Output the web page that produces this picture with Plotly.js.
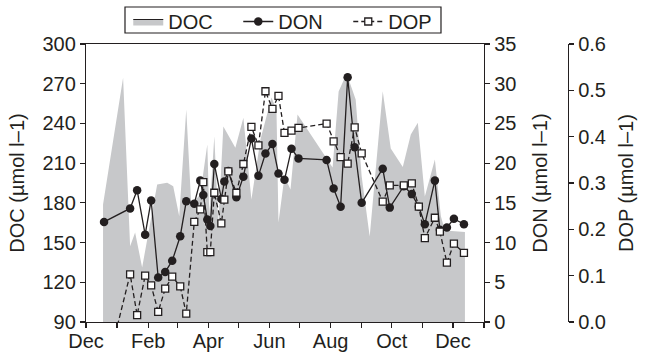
<!DOCTYPE html>
<html>
<head>
<meta charset="utf-8">
<script src="https://cdn.plot.ly/plotly-3.0.1.min.js"></script>
<style>html,body{margin:0;padding:0;background:#fff}#chart{width:645px;height:353px}</style>
</head>
<body>
<div id="chart"></div>
<script>
// DOC (gray area, left axis)
const docDates = ['2007-12-18','2008-01-07','2008-01-14','2008-01-19','2008-01-26','2008-02-10','2008-02-20','2008-02-26','2008-03-03','2008-03-10','2008-03-15','2008-03-24','2008-03-31','2008-04-02','2008-04-07','2008-04-11','2008-04-16','2008-04-28','2008-05-06','2008-05-14','2008-05-23','2008-06-03','2008-06-08','2008-06-10','2008-06-16','2008-06-22','2008-06-29','2008-07-29','2008-08-03','2008-08-09','2008-08-17','2008-08-26','2008-09-01','2008-09-09','2008-09-22','2008-09-30','2008-10-12','2008-10-20','2008-10-27','2008-11-03','2008-11-13','2008-11-19','2008-11-23','2008-12-13'];
const docValues = [178.8,274.5,147.3,157.6,131.2,193.9,195.2,192.6,169.9,250.5,178.8,186.3,224.1,171.2,230.4,163.7,237.7,221.6,244.3,182.5,227.9,259.6,250.5,165.2,199.9,190.1,246.7,212.8,206.7,264.1,277.7,258.1,199.9,154.6,264.3,221.1,207.1,231.6,240.5,184.8,212.8,169.9,159.1,158.0];

// DON and DOP sampling dates (shared)
const sampleDates = ['2007-12-19','2008-01-14','2008-01-21','2008-01-29','2008-02-04','2008-02-11','2008-02-18','2008-02-25','2008-03-04','2008-03-10','2008-03-18','2008-03-24','2008-03-27','2008-03-31','2008-04-03','2008-04-07','2008-04-14','2008-04-17','2008-04-21','2008-04-29','2008-05-06','2008-05-14','2008-05-21','2008-05-28','2008-06-04','2008-06-10','2008-06-16','2008-06-23','2008-06-30','2008-07-28','2008-08-04','2008-08-11','2008-08-18','2008-08-25','2008-09-01','2008-09-22','2008-09-29','2008-10-13','2008-10-21','2008-10-28','2008-11-03','2008-11-13','2008-11-18','2008-11-25','2008-12-02','2008-12-12'];
const donValues = [12.6,14.3,16.6,11.0,15.3,5.6,6.3,7.7,10.8,15.2,14.9,17.8,16.0,12.9,12.1,19.9,15.5,17.7,19.0,15.7,18.3,23.1,18.4,21.2,22.4,18.7,17.9,21.8,20.6,20.4,16.8,14.5,30.8,22.0,15.0,19.3,14.4,17.1,16.1,14.5,12.3,17.8,11.6,11.9,13.0,12.3];
const dopValues = [-0.125,0.103,0.015,0.100,0.079,0.022,0.072,0.098,0.077,0.018,0.216,0.243,0.302,0.151,0.151,0.279,0.213,0.264,0.325,0.279,0.341,0.421,0.381,0.498,0.460,0.488,0.408,0.413,0.419,0.428,0.390,0.356,0.342,0.420,0.364,0.260,0.295,0.295,0.299,0.249,0.181,0.225,0.195,0.128,0.169,0.149];

// axis settings
const xRange = ['2007-12-01','2009-01-01'];
const docRange = [90, 300];
const donRange = [0, 35];
const dopRange = [0, 0.6];

const ink = '#231f20';
const gray = '#c7c8ca';
const FONT = 'Liberation Sans, Arial, Helvetica, sans-serif';

const traces = [
  {x: docDates, y: docValues, type: 'scatter', mode: 'lines', fill: 'tozeroy',
   fillcolor: gray, line: {width: 0, color: gray}, name: 'DOC', showlegend: false,
   yaxis: 'y', hoverinfo: 'skip'},
  {x: [null], y: [null], type: 'scatter', mode: 'lines', fill: 'toself',
   fillcolor: gray, line: {width: 1.2, color: ink}, name: 'DOC', yaxis: 'y'},
  {x: sampleDates, y: donValues, type: 'scatter', mode: 'lines+markers', name: 'DON',
   line: {color: ink, width: 1.3}, marker: {size: 8.5, color: ink}, yaxis: 'y2'},
  {x: sampleDates, y: dopValues, type: 'scatter', mode: 'lines+markers', name: 'DOP',
   line: {color: ink, width: 1.3, dash: '5px,3px'},
   marker: {symbol: 'square', size: 7, color: '#fff', line: {color: ink, width: 1.3}}, yaxis: 'y3'}
];

const axisCommon = {
  showline: true, linecolor: ink, linewidth: 1.2, ticks: 'outside', ticklen: 5,
  tickwidth: 1.2, tickcolor: ink, showgrid: false, zeroline: false,
  tickfont: {size: 20, color: ink, family: FONT}
};

const layout = {
  width: 645, height: 353,
  margin: {l: 86, r: 77, t: 44, b: 31, pad: 0, autoexpand: false},
  paper_bgcolor: '#fff', plot_bgcolor: '#fff',
  font: {family: FONT, size: 20, color: ink},
  showlegend: true,
  legend: {orientation: 'h', x: 0.43, xanchor: 'center', y: 1.151, yanchor: 'top',
    borderwidth: 0, bgcolor: 'rgba(0,0,0,0)', font: {size: 20, color: ink},
    traceorder: 'normal', itemwidth: 30, entrywidth: 65, entrywidthmode: 'pixels'},
  shapes: [
    {type: 'rect', xref: 'paper', yref: 'paper', x0: 0.0809, x1: 0.7365, y0: 1.0396, y1: 1.1331,
     line: {color: ink, width: 1.2}, fillcolor: 'rgba(0,0,0,0)', layer: 'above'}
  ],
  xaxis: Object.assign({}, axisCommon, {
    type: 'date', range: xRange, domain: [0, 0.8257], mirror: true,
    tick0: '2007-12-01', dtick: 'M2', tickformat: '%b', ticklabelstandoff: -4,
    minor: {dtick: 'M1', ticks: 'outside', ticklen: 5, tickwidth: 1.2, tickcolor: ink, showgrid: false}
  }),
  yaxis: Object.assign({}, axisCommon, {
    range: docRange, tick0: 90, dtick: 30,
    title: {text: 'DOC (µmol l–1)', font: {size: 20, color: ink}, standoff: 12}
  }),
  yaxis2: Object.assign({}, axisCommon, {
    range: donRange, tick0: 0, dtick: 5, overlaying: 'y', side: 'right', anchor: 'x',
    title: {text: 'DON (µmol l–1)', font: {size: 20, color: ink}, standoff: 17}
  }),
  yaxis3: Object.assign({}, axisCommon, {
    range: dopRange, tick0: 0, dtick: 0.1, tickformat: '.1f', overlaying: 'y', side: 'right',
    anchor: 'free', position: 1,
    title: {text: 'DOP (µmol l–1)', font: {size: 20, color: ink}, standoff: 14}
  })
};

Plotly.newPlot('chart', traces, layout, {displayModeBar: false, staticPlot: true});
</script>
</body>
</html>
